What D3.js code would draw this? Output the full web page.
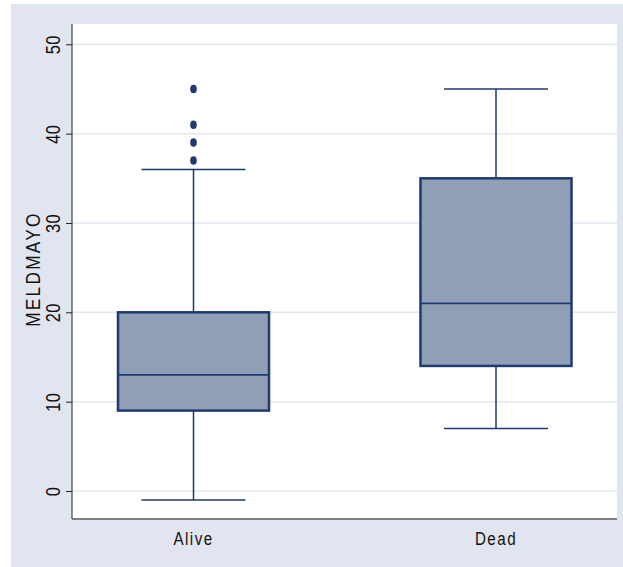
<!DOCTYPE html>
<html>
<head>
<meta charset="utf-8">
<script src="https://cdn.jsdelivr.net/npm/d3@7"></script>
<style>
  body { margin: 0; background: #fff; }
  text { font-family: "Liberation Sans", Arial, sans-serif; fill: #111; }
</style>
</head>
<body>
<svg id="chart" width="623" height="567"></svg>
<script>
// data
var groups = ["Alive", "Dead"];
var lowWhisker = [-1, 7];
var q1 = [9, 14];
var median = [13, 21];
var q3 = [20, 35];
var highWhisker = [36, 45];
var outliers = [[37, 39, 41, 45], []];
var yTicks = [0, 10, 20, 30, 40, 50];
var yLabel = "MELDMAYO";

var svg = d3.select("#chart");
var plot = { left: 72, right: 617, top: 24, bottom: 519 };
var narrow = 0.82; // the original uses a condensed face

// outer background
svg.append("rect")
  .attr("x", 11).attr("y", 4)
  .attr("width", 612).attr("height", 563)
  .attr("fill", "#e1e5ef");

svg.append("rect")
  .attr("x", plot.left).attr("y", plot.top)
  .attr("width", plot.right - plot.left)
  .attr("height", plot.bottom - plot.top)
  .attr("fill", "#fff");

var y = d3.scaleLinear().domain([0, 50]).range([491, 44.3]);
var x = d3.scalePoint().domain(groups).range([193.5, 496]);

// grid
svg.append("g").selectAll("line").data(yTicks).join("line")
  .attr("x1", plot.left).attr("x2", plot.right)
  .attr("y1", function(d) { return y(d); })
  .attr("y2", function(d) { return y(d); })
  .attr("stroke", "#e3e7f0")
  .attr("stroke-width", 1.5);

// y axis
var yAxis = svg.append("g")
  .attr("transform", "translate(" + plot.left + ",0)")
  .call(d3.axisLeft(y).tickValues(yTicks).tickSize(6).tickFormat(d3.format("d")));
yAxis.select(".domain").attr("d", "M0," + plot.top + "V" + plot.bottom).attr("stroke", "#222");
yAxis.selectAll(".tick line").attr("stroke", "#222");
yAxis.selectAll(".tick text")
  .attr("transform", "rotate(-90) scale(" + narrow + ",1)")
  .attr("x", 0).attr("y", -12)
  .attr("dy", 0)
  .attr("text-anchor", "middle")
  .style("font-size", "20px")
  .style("letter-spacing", "0.5px");

// x axis line
svg.append("line")
  .attr("x1", plot.left).attr("x2", plot.right)
  .attr("y1", plot.bottom).attr("y2", plot.bottom)
  .attr("stroke", "#5a5a5a").attr("stroke-width", 1.5);

svg.append("g").selectAll("text").data(groups).join("text")
  .attr("transform", function(d) { return "translate(" + x(d) + ",545) scale(" + narrow + ",1)"; })
  .attr("text-anchor", "middle")
  .style("font-size", "18.5px")
  .style("letter-spacing", "1.8px")
  .text(function(d) { return d; });

// y label
svg.append("text")
  .attr("transform", "translate(40,269) rotate(-90) scale(" + narrow + ",1)")
  .attr("text-anchor", "middle")
  .style("font-size", "21px")
  .style("letter-spacing", "2.8px")
  .text(yLabel);

// boxes
var navy = "#1f3a6e";
var boxHalf = 75.5, capHalf = 52;
groups.forEach(function(g, i) {
  var cx = x(g);
  var b = svg.append("g");
  b.append("line")
    .attr("x1", cx).attr("x2", cx)
    .attr("y1", y(highWhisker[i])).attr("y2", y(q3[i]))
    .attr("stroke", navy).attr("stroke-width", 1.5);
  b.append("line")
    .attr("x1", cx).attr("x2", cx)
    .attr("y1", y(q1[i])).attr("y2", y(lowWhisker[i]))
    .attr("stroke", navy).attr("stroke-width", 1.5);
  [highWhisker[i], lowWhisker[i]].forEach(function(v) {
    b.append("line")
      .attr("x1", cx - capHalf).attr("x2", cx + capHalf)
      .attr("y1", y(v)).attr("y2", y(v))
      .attr("stroke", navy).attr("stroke-width", 1.5);
  });
  b.append("rect")
    .attr("x", cx - boxHalf).attr("width", boxHalf * 2)
    .attr("y", y(q3[i])).attr("height", y(q1[i]) - y(q3[i]))
    .attr("fill", "#919fb6")
    .attr("stroke", navy).attr("stroke-width", 2.5);
  b.append("line")
    .attr("x1", cx - boxHalf).attr("x2", cx + boxHalf)
    .attr("y1", y(median[i])).attr("y2", y(median[i]))
    .attr("stroke", navy).attr("stroke-width", 1.8);
  b.selectAll("ellipse").data(outliers[i]).join("ellipse")
    .attr("cx", cx)
    .attr("cy", function(d) { return y(d); })
    .attr("rx", 3.3).attr("ry", 4.3)
    .attr("fill", navy);
});
</script>
</body>
</html>
